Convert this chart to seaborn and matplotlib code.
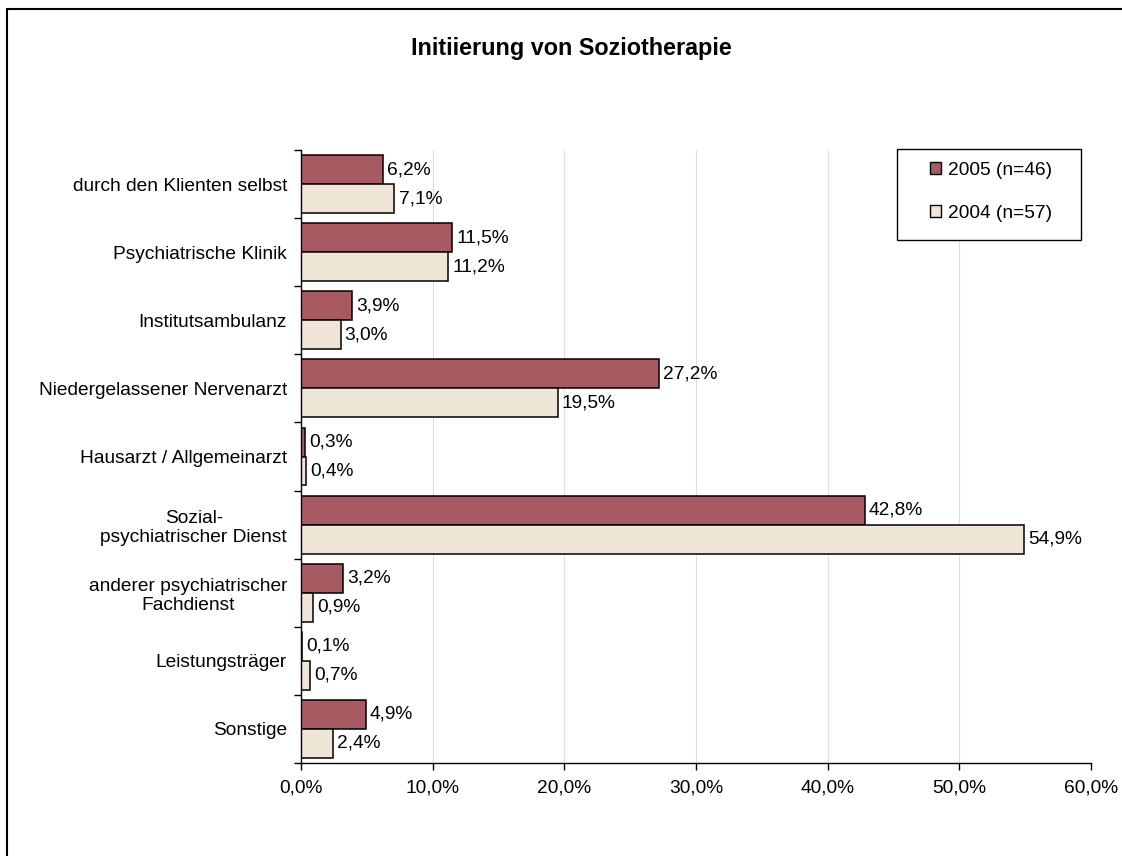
import matplotlib
matplotlib.use("Agg")
import matplotlib.pyplot as plt
import seaborn as sns
import pandas as pd
from matplotlib.lines import Line2D
from matplotlib.patches import Patch, Rectangle

categories = [
    "durch den Klienten selbst",
    "Psychiatrische Klinik",
    "Institutsambulanz",
    "Niedergelassener Nervenarzt",
    "Hausarzt / Allgemeinarzt",
    "Sozial-\npsychiatrischer Dienst",
    "anderer psychiatrischer\nFachdienst",
    "Leistungsträger",
    "Sonstige",
]
values_2005 = [6.2, 11.5, 3.9, 27.2, 0.3, 42.8, 3.2, 0.1, 4.9]
values_2004 = [7.1, 11.2, 3.0, 19.5, 0.4, 54.9, 0.9, 0.7, 2.4]
series_names = ["2005 (n=46)", "2004 (n=57)"]
xticks = [0, 10, 20, 30, 40, 50, 60]

sns.set_theme(style="white")
plt.rcParams["font.family"] = ["Liberation Sans", "DejaVu Sans"]
plt.rcParams["text.color"] = "black"
plt.rcParams["xtick.labelcolor"] = "black"
plt.rcParams["ytick.labelcolor"] = "black"
plt.rcParams["axes.labelcolor"] = "black"

df = pd.DataFrame({
    "Kategorie": categories * 2,
    "Wert": values_2005 + values_2004,
    "Jahr": [series_names[0]] * len(categories) + [series_names[1]] * len(categories),
})

colors = {series_names[0]: "#A85A62", series_names[1]: "#F0E6D8"}
FS = 13.8

fig = plt.figure(figsize=(11.22, 8.56), dpi=100)
ax = fig.add_axes([301 / 1122, 1 - 763 / 856, (1091 - 301) / 1122, (763 - 150) / 856])

sns.barplot(data=df, y="Kategorie", x="Wert", hue="Jahr", orient="h",
            palette=colors, order=categories, hue_order=series_names,
            width=0.85, saturation=1, edgecolor="black", linewidth=1.1, ax=ax, legend=False)

for cont in ax.containers:
    labels = [f"{v:.1f}%".replace(".", ",") for v in cont.datavalues]
    ax.bar_label(cont, labels=labels, padding=3, fontsize=FS, color="black")

ax.set_xlim(0, 60)
ax.set_ylim(len(categories) - 0.5, -0.5)
ax.set_xticks(xticks)
ax.set_xticklabels([f"{t:.1f}%".replace(".", ",") for t in xticks], fontsize=FS, color="black")
ax.set_yticks(range(len(categories)))
ax.set_yticklabels(categories, fontsize=FS, multialignment="center", color="black")
ax.set_yticks([i - 0.5 for i in range(len(categories) + 1)], minor=True)
ax.tick_params(axis="y", which="major", length=0, pad=10)
ax.tick_params(axis="y", which="minor", length=5, width=1, color="black", direction="out", left=True)
ax.tick_params(axis="x", which="major", length=5, width=1, color="black", direction="out", bottom=True, pad=7)
ax.set_xlabel("")
ax.set_ylabel("")
ax.grid(axis="x", color="#DDDDDD", linewidth=0.8)
ax.set_axisbelow(True)
for s in ["top", "right"]:
    ax.spines[s].set_visible(False)
for s in ["left", "bottom"]:
    ax.spines[s].set_color("black")
    ax.spines[s].set_linewidth(1.0)

fig.text(571 / 1122, 1 - 48 / 856, "Initiierung von Soziotherapie",
         ha="center", va="center", fontsize=16.8, fontweight="bold", color="black")

# legend box
fig.add_artist(Rectangle((897 / 1122, 1 - 240 / 856), 184 / 1122, 91 / 856,
                         transform=fig.transFigure, facecolor="white", edgecolor="black",
                         linewidth=1.0, zorder=5))
handles = [Patch(facecolor=colors[n], edgecolor="black", linewidth=1.0) for n in series_names]
leg = fig.legend(handles, series_names, loc="center",
                 bbox_to_anchor=(991 / 1122, 1 - 192 / 856), fontsize=FS,
                 frameon=False, handlelength=0.6, handleheight=0.6,
                 handletextpad=0.35, labelspacing=1.35, borderpad=0)
for t in leg.get_texts():
    t.set_color("black")
leg.set_zorder(6)

# outer border (top and left visible)
fig.add_artist(Line2D([7 / 1122, 1.0], [1 - 9 / 856, 1 - 9 / 856], transform=fig.transFigure, color="black", linewidth=1.5))
fig.add_artist(Line2D([7 / 1122, 7 / 1122], [0.0, 1 - 9 / 856], transform=fig.transFigure, color="black", linewidth=1.5))

fig.savefig("out.png", dpi=100)
